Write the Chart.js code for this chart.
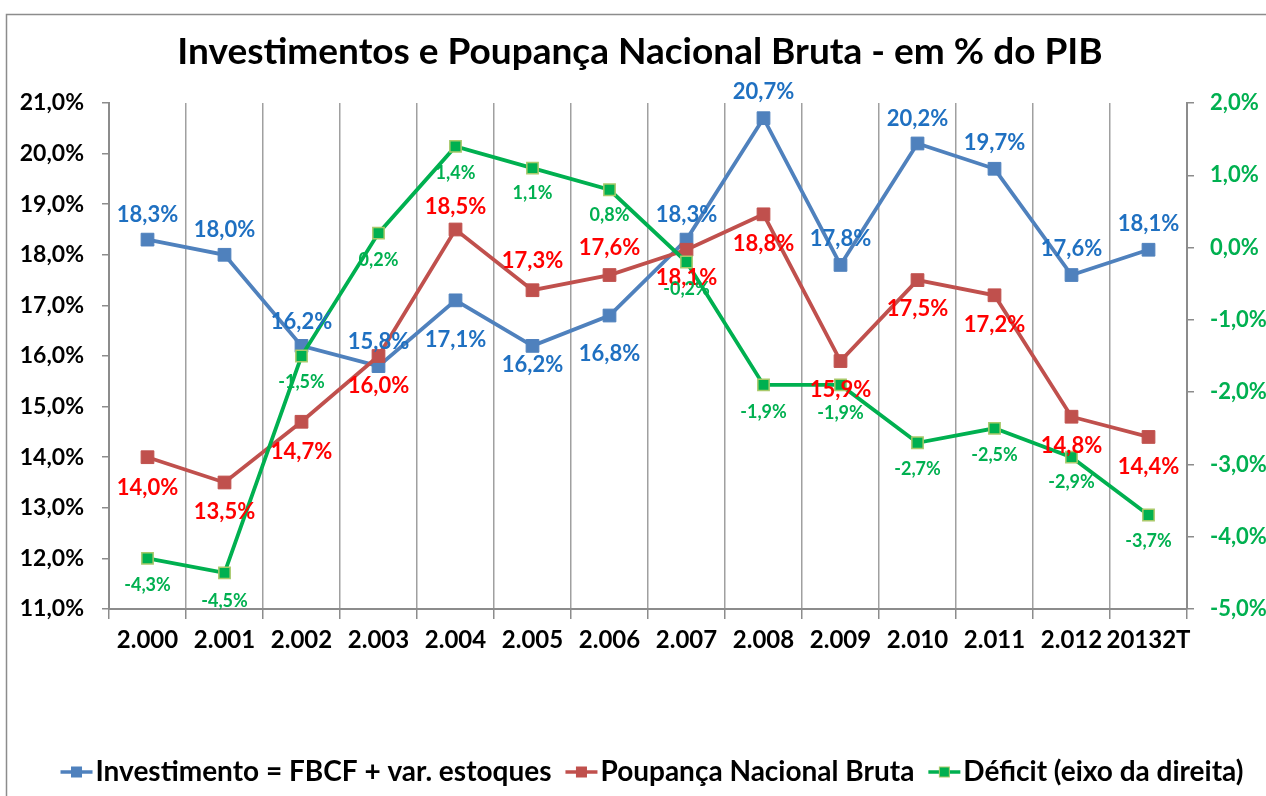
<!DOCTYPE html>
<html>
<head>
<meta charset="utf-8">
<script src="https://cdn.jsdelivr.net/npm/chart.js@4"></script>
<style>
html,body{margin:0;padding:0;background:#fff;}
#wrap{width:1266px;height:796px;position:relative;}
</style>
</head>
<body>
<div id="wrap"><canvas id="c" width="1266" height="796"></canvas></div>
<script>
const categories = ["2.000","2.001","2.002","2.003","2.004","2.005","2.006","2.007","2.008","2.009","2.010","2.011","2.012","20132T"];
const investimento = [18.3,18.0,16.2,15.8,17.1,16.2,16.8,18.3,20.7,17.8,20.2,19.7,17.6,18.1];
const poupanca = [14.0,13.5,14.7,16.0,18.5,17.3,17.6,18.1,18.8,15.9,17.5,17.2,14.8,14.4];
const deficit = [-4.3,-4.5,-1.5,0.2,1.4,1.1,0.8,-0.2,-1.9,-1.9,-2.7,-2.5,-2.9,-3.7];
const seriesNames = ["Investimento = FBCF + var. estoques","Poupança Nacional Bruta","Déficit (eixo da direita)"];
const titleText = "Investimentos e Poupança Nacional Bruta - em % do PIB";

// label vertical offsets (px, relative to the point)
const labelDyInv = [-25,-25,-24,-24,40,19,38,-25,-26,-26,-25,-26,-26,-26];
const labelDyPou = [31,29,30,30,-23,-29,-27,28,30,29,29,30,29,30];
const labelDyDef = [27,28,26,27,27,25,25,27,27,28,26,27,25,26];

const FONT = "Lato, 'Open Sans', sans-serif";
const fmt = v => v.toFixed(1).replace('.', ',') + '%';

const labelsPlugin = {
  id: 'dlabels',
  afterDatasetsDraw(chart) {
    const ctx = chart.ctx;
    chart.data.datasets.forEach((ds, i) => {
      const meta = chart.getDatasetMeta(i);
      ctx.save();
      ctx.font = ds._lblFont;
      ctx.fillStyle = ds._lblColor;
      ctx.textAlign = 'center';
      ctx.textBaseline = 'middle';
      meta.data.forEach((pt, j) => {
        ctx.fillText(fmt(ds.data[j]), pt.x, pt.y + ds._lblDy[j]);
      });
      ctx.restore();
    });
  }
};

const framePlugin = {
  id: 'frame',
  beforeDraw(chart) {
    const ctx = chart.ctx;
    ctx.save();
    ctx.fillStyle = '#fff';
    ctx.fillRect(0, 0, chart.width, chart.height);
    ctx.strokeStyle = '#8c8c8c';
    ctx.lineWidth = 1.5;
    ctx.strokeRect(6.5, 14.5, 1400, 900);
    ctx.restore();
  },
  afterDraw(chart) {
    const ctx = chart.ctx;
    ctx.save();
    // title
    ctx.font = "bold 37px " + FONT;
    ctx.fillStyle = '#000';
    ctx.textAlign = 'center';
    ctx.textBaseline = 'middle';
    ctx.fillText(titleText, 640, 52);
    // legend
    ctx.font = "bold 28px " + FONT;
    const items = chart.data.datasets.map(ds => ({ text: ds.label, color: ds.borderColor, fill: ds.pointBackgroundColor, stroke: ds.pointBorderColor }));
    const iconW = 32, gapT = 3, gapI = 14;
    let total = 0;
    items.forEach((it, k) => { it.w = ctx.measureText(it.text).width; total += iconW + gapT + it.w + (k < items.length - 1 ? gapI : 0); });
    let x = 652 - total / 2;
    const y = 772;
    items.forEach(it => {
      ctx.strokeStyle = it.color;
      ctx.lineWidth = 3.5;
      ctx.beginPath(); ctx.moveTo(x, y); ctx.lineTo(x + iconW, y); ctx.stroke();
      ctx.fillStyle = it.fill;
      ctx.fillRect(x + iconW / 2 - 5, y - 5, 10, 10);
      ctx.strokeStyle = it.stroke; ctx.lineWidth = 1;
      ctx.strokeRect(x + iconW / 2 - 5, y - 5, 10, 10);
      ctx.fillStyle = '#000';
      ctx.textAlign = 'left';
      ctx.fillText(it.text, x + iconW + gapT, y);
      x += iconW + gapT + it.w + gapI;
    });
    ctx.restore();
  }
};

new Chart(document.getElementById('c'), {
  type: 'line',
  data: {
    labels: categories,
    datasets: [
      { label: seriesNames[0], data: investimento, yAxisID: 'y', order: 3,
        borderColor: '#4F81BD', backgroundColor: '#4F81BD', borderWidth: 3.8,
        pointStyle: 'rect', pointRadius: 9, pointBackgroundColor: '#4F81BD', pointBorderColor: '#4F81BD', pointBorderWidth: 1,
        _lblColor: '#1F70C1', _lblFont: "bold 22px " + FONT, _lblDy: labelDyInv },
      { label: seriesNames[1], data: poupanca, yAxisID: 'y', order: 2,
        borderColor: '#C0504D', backgroundColor: '#C0504D', borderWidth: 3.8,
        pointStyle: 'rect', pointRadius: 9, pointBackgroundColor: '#C0504D', pointBorderColor: '#C0504D', pointBorderWidth: 1,
        _lblColor: '#FF0000', _lblFont: "bold 22px " + FONT, _lblDy: labelDyPou },
      { label: seriesNames[2], data: deficit, yAxisID: 'y1', order: 1,
        borderColor: '#00B050', backgroundColor: '#00B050', borderWidth: 3.8,
        pointStyle: 'rect', pointRadius: 8, pointBackgroundColor: '#00B050', pointBorderColor: '#A9C96A', pointBorderWidth: 1.5,
        _lblColor: '#00B050', _lblFont: "bold 18px " + FONT, _lblDy: labelDyDef }
    ]
  },
  options: {
    responsive: false,
    animation: false,
    devicePixelRatio: 1,
    layout: { padding: { top: 103, bottom: 120, left: 0, right: 0 } },
    plugins: { legend: { display: false }, title: { display: false }, tooltip: { enabled: false } },
    elements: { line: { tension: 0 } },
    scales: {
      x: {
        offset: true,
        grid: { offset: true, color: '#a0a0a0', lineWidth: 1.5, drawTicks: true, tickLength: 10, tickColor: '#8c8c8c' },
        border: { color: '#8c8c8c', width: 2 },
        ticks: { color: '#000', font: { family: FONT, size: 24, weight: 'bold' }, padding: 7, maxRotation: 0, autoSkip: false },
        afterFit: s => { s.height = 67; }
      },
      y: {
        position: 'left', min: 11, max: 21,
        grid: { drawOnChartArea: false, drawTicks: true, tickLength: 7, color: '#8c8c8c', lineWidth: 1.5 },
        border: { color: '#8c8c8c', width: 2 },
        ticks: { stepSize: 1, color: '#000', font: { family: FONT, size: 23, weight: 'bold' }, padding: 18, callback: v => fmt(v) },
        afterFit: s => { s.width = 109; }
      },
      y1: {
        position: 'right', min: -5, max: 2,
        grid: { drawOnChartArea: false, drawTicks: true, tickLength: 7, color: '#8c8c8c', lineWidth: 1.5 },
        border: { color: '#8c8c8c', width: 2 },
        ticks: { stepSize: 1, color: '#00B050', font: { family: FONT, size: 22, weight: 'bold' }, padding: 16, callback: v => fmt(v) },
        afterFit: s => { s.width = 79; }
      }
    }
  },
  plugins: [framePlugin, labelsPlugin]
});
</script>
</body>
</html>
